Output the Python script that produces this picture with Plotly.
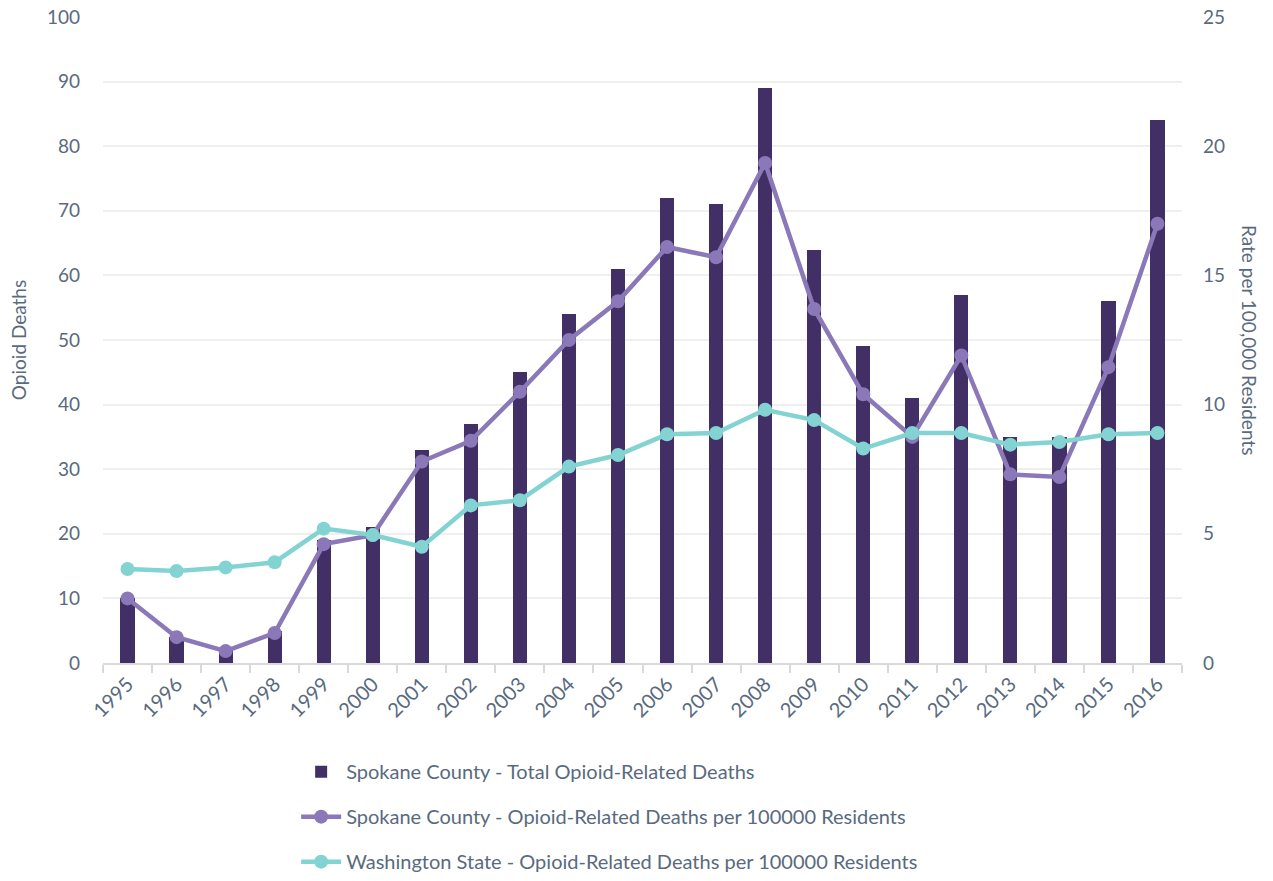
import plotly.graph_objects as go

years = [str(y) for y in range(1995, 2017)]
total_deaths = [10, 4, 2, 5, 19, 21, 33, 37, 45, 54, 61, 72, 71, 89, 64, 49, 41, 57, 35, 35, 56, 84]
spokane_rate = [2.5, 1.0, 0.46, 1.16, 4.6, 4.95, 7.8, 8.6, 10.5, 12.5, 14.0, 16.1, 15.7, 19.35,
                13.7, 10.4, 8.75, 11.9, 7.3, 7.2, 11.45, 17.0]
washington_rate = [3.64, 3.56, 3.7, 3.9, 5.2, 4.95, 4.5, 6.1, 6.3, 7.6, 8.05, 8.85, 8.9, 9.8,
                   9.4, 8.3, 8.9, 8.9, 8.45, 8.55, 8.85, 8.9]

left_ticks = list(range(0, 101, 10))
right_ticks = [0, 5, 10, 15, 20, 25]

TEXT = "#596A7E"
FONT = "Lato"

fig = go.Figure()
fig.add_trace(go.Bar(
    x=years, y=total_deaths, name="Spokane County - Total Opioid-Related Deaths",
    marker=dict(color="#422F66", line=dict(width=0)), width=0.29,
    legendgroup="a", yaxis="y",
))
fig.add_trace(go.Scatter(
    x=years, y=spokane_rate, name="Spokane County - Opioid-Related Deaths per 100000 Residents",
    mode="lines+markers", line=dict(color="#8B78B8", width=4.5),
    marker=dict(color="#8B78B8", size=14), legendgroup="b", yaxis="y2",
))
fig.add_trace(go.Scatter(
    x=years, y=washington_rate, name="Washington State - Opioid-Related Deaths per 100000 Residents",
    mode="lines+markers", line=dict(color="#83D3D3", width=4.5),
    marker=dict(color="#83D3D3", size=14), legendgroup="c", yaxis="y2",
))

fig.update_layout(
    width=1273, height=881,
    margin=dict(l=103, r=91, t=17, b=218, autoexpand=False),
    paper_bgcolor="white", plot_bgcolor="white",
    font=dict(family=FONT, color=TEXT, size=19),
    bargap=0,
    xaxis=dict(
        type="category", range=[-0.5, len(years) - 0.5], tickangle=-45, tickson="boundaries",
        ticks="outside", ticklen=8, tickcolor="#D9D9D9", tickwidth=1.5,
        showline=True, linecolor="#D9D9D9", linewidth=1.5,
        showgrid=False, tickfont=dict(size=20, color=TEXT), automargin=False,
    ),
    yaxis=dict(
        range=[0, 100], tickvals=left_ticks, showgrid=True, gridcolor="#EFEFEF",
        gridwidth=1.5, zeroline=False, tickfont=dict(size=19, color=TEXT),
        title=dict(text="Opioid Deaths", font=dict(size=19, color=TEXT), standoff=15),
        ticklabelstandoff=22, automargin=False,
    ),
    yaxis2=dict(
        range=[0, 25], tickvals=right_ticks, overlaying="y", side="right",
        showgrid=False, zeroline=False, tickfont=dict(size=19, color=TEXT),
        ticklabelstandoff=20, automargin=False,
    ),
    legend=dict(
        orientation="v", x=0.179, y=-0.138, xanchor="left", yanchor="top",
        font=dict(size=20, color=TEXT), tracegroupgap=16, traceorder="grouped",
        itemwidth=40,
    ),
    annotations=[dict(
        text="Rate per 100,000 Residents", textangle=90, xref="paper", yref="paper",
        x=1.063, y=0.5, xanchor="center", yanchor="middle", showarrow=False,
        font=dict(size=19, color=TEXT),
    )],
)

fig.write_html("out.html")
